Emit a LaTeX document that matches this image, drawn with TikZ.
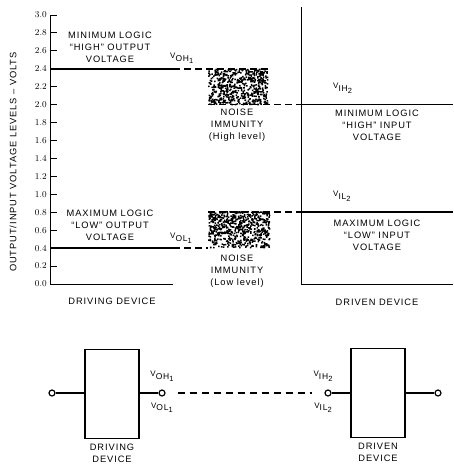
\documentclass[tikz,border=0pt]{standalone}
\usepackage{fontspec}
\setmainfont{Liberation Sans}
\newfontfamily\lblfont[LetterSpace=10]{Liberation Sans}
\usetikzlibrary{positioning}

\tikzset{
  txt/.style={font=\lblfont\fontsize{9.3}{12}\selectfont, align=center, inner sep=0pt},
  level/.style={line width=1.6pt},
  gap/.style={line width=1.6pt, dash pattern=on 7pt off 4pt},
  axis/.style={line width=1pt},
  device/.style={draw, line width=1.5pt, minimum width=54pt, minimum height=89pt, inner sep=0pt},
  pin/.style={draw, circle, line width=1.2pt, inner sep=0pt, minimum size=6pt, fill=white},
}
\newcommand{\vsub}[2]{{\fontsize{8}{8}\selectfont V}\raisebox{-2.5pt}{\fontsize{8.5}{8}\selectfont #1\raisebox{-2pt}{\fontsize{7.5}{7}\selectfont #2}}}

\begin{document}
\begin{tikzpicture}[x=1pt, y=-1pt]
    \useasboundingbox (0,0) rectangle (454,464);

    % voltage chart
    \draw[axis] (50,15) -- (50,284) -- (173,284);
    \foreach \v in {0,1,...,15} {
        \pgfmathsetmacro{\yy}{284-17.93*\v}
        \draw[axis] (50,\yy) -- (57,\yy);
        \pgfmathsetmacro{\vv}{\v*0.2}
        \node[txt, anchor=east] at (47,\yy)
            {\pgfmathprintnumber[fixed, precision=1, fixed zerofill]{\vv}};
    }
    \node[txt, rotate=90] (ylab) at (13,162) {OUTPUT/INPUT VOLTAGE LEVELS – VOLTS};
    \draw[axis] (301,7) -- (301,284) -- (453,284);

    % noise margins
    \pgfmathsetseed{17}
    \fill foreach \i in {1,...,600} {({208+59*rnd},{68+36*rnd}) rectangle ++(1.5,1.5)};
    \fill foreach \i in {1,...,640} {({208+61*rnd},{211+36*rnd}) rectangle ++(1.5,1.5)};

    \draw[level] (50,68.7) -- (173,68.7);
    \draw[gap] (173,68.7) -- (268,68.7);
    \draw[gap] (208,104.6) -- (301,104.6);
    \draw[level] (301,104.6) -- (453,104.6);
    \draw[gap] (208,212.2) -- (301,212.2);
    \draw[level] (301,212.2) -- (453,212.2);
    \draw[level] (50,248.1) -- (173,248.1);
    \draw[gap] (173,248.1) -- (208,248.1);

    \node[txt] (hiout) at (110,47) {MINIMUM LOGIC\\“HIGH” OUTPUT\\VOLTAGE};
    \node[txt] (loout) at (110,225) {MAXIMUM LOGIC\\“LOW” OUTPUT\\VOLTAGE};
    \node[txt, anchor=west] (voh) at (170,58) {\vsub{OH}{1}};
    \node[txt, anchor=west] (vol) at (170,238) {\vsub{OL}{1}};
    \node[txt] (nmhi) at (237,125) {NOISE\\IMMUNITY\\(High level)};
    \node[txt] (nmlo) at (237,271) {NOISE\\IMMUNITY\\(Low level)};
    \node[txt, anchor=west] (vih) at (333,88) {\vsub{IH}{2}};
    \node[txt, anchor=west] (vil) at (333,196) {\vsub{IL}{2}};
    \node[txt] (hiin) at (377,125) {MINIMUM LOGIC\\“HIGH” INPUT\\VOLTAGE};
    \node[txt] (loin) at (377,235) {MAXIMUM LOGIC\\“LOW” INPUT\\VOLTAGE};
    \node[txt] (drvdev) at (112,301) {DRIVING DEVICE};
    \node[txt] (dvndev) at (377,302) {DRIVEN DEVICE};

    % circuit
    \node[device] (drv) at (112,394) {};
    \node[device] (dvn) at (378,393) {};
    \node[pin] (ina) at (52,393) {};
    \node[pin] (outa) at (162,393) {};
    \node[pin] (inb) at (328,393) {};
    \node[pin] (outb) at (438,393) {};
    \draw[line width=1.2pt] (ina) -- (drv.west |- ina);
    \draw[line width=1.2pt] (drv.east |- outa) -- (outa);
    \draw[line width=1.2pt] (inb) -- (dvn.west |- inb);
    \draw[line width=1.2pt] (dvn.east |- outb) -- (outb);
    \draw[line width=1.2pt, dash pattern=on 7pt off 5pt, shorten <=12pt, shorten >=12pt] (outa) -- (inb);

    \node[txt, above=8pt of outa] (voha) {\vsub{OH}{1}};
    \node[txt, below=6pt of outa] (vola) {\vsub{OL}{1}};
    \node[txt, above=8pt of inb, xshift=-5pt] (vihb) {\vsub{IH}{2}};
    \node[txt, below=6pt of inb, xshift=-5pt] (vilb) {\vsub{IL}{2}};
    \node[txt, below=5pt of drv] (drvlab) {DRIVING\\DEVICE};
    \node[txt, below=5pt of dvn] (dvnlab) {DRIVEN\\DEVICE};
\end{tikzpicture}
\end{document}
